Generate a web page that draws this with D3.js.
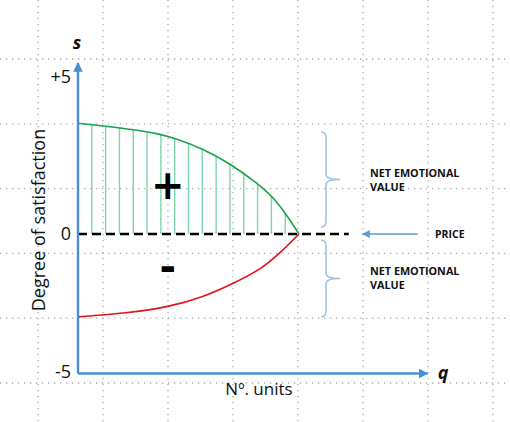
<!DOCTYPE html>
<html>
<head>
<meta charset="utf-8">
<script src="https://cdn.jsdelivr.net/npm/d3@7"></script>
<style>
  body { margin: 0; background: #fff; }
  text { font-family: "Open Sans", sans-serif; }
</style>
</head>
<body>
<div id="wrapper"></div>
<script>
// data
const greenQ = [0, 2, 4, 6, 7, 9, 11, 13, 14.1, 15.1, 16]
const greenS = [3.53, 3.44, 3.33, 3.18, 3.05, 2.73, 2.25, 1.61, 1.19, 0.61, 0]
const redQ = [0, 3.5, 6.7, 9.1, 11, 13.2, 14.6, 16]
const redS = [-3.0, -2.87, -2.63, -2.27, -1.85, -1.30, -0.70, 0]
const hatchQ = [1, 2, 3, 4, 5, 6, 7, 8, 9, 10, 11, 12, 13, 14, 15]
const yTicks = [-5, 0, 5]
const yTickLabels = ["-5", "0", "+5"]
const priceLine = [0, 19.6]
const priceArrow = [24.6, 20.6]
const braces = [[3.25, 0.22], [-0.22, -3.0]]

const width = 510
const height = 422

const svg = d3.select("#wrapper")
  .append("svg")
  .attr("width", width)
  .attr("height", height)

// defs: arrow heads
const defs = svg.append("defs")
defs.append("marker")
  .attr("id", "arrow")
  .attr("viewBox", "0 0 10 10")
  .attr("refX", 9).attr("refY", 5)
  .attr("markerWidth", 4).attr("markerHeight", 4)
  .attr("markerUnits", "strokeWidth")
  .attr("orient", "auto")
  .append("path")
  .attr("d", "M0,0L10,5L0,10z")
  .attr("fill", "#4a8fd6")
defs.append("marker")
  .attr("id", "arrowPrice")
  .attr("viewBox", "0 0 10 10")
  .attr("refX", 9).attr("refY", 5)
  .attr("markerWidth", 5).attr("markerHeight", 5)
  .attr("markerUnits", "strokeWidth")
  .attr("orient", "auto")
  .append("path")
  .attr("d", "M0,0L10,5L0,10z")
  .attr("fill", "#5b9bd5")

// background dotted grid
const grid = svg.append("g")
grid.selectAll("line.v")
  .data(d3.range(38, width, 65))
  .join("line")
  .attr("x1", d => d).attr("x2", d => d)
  .attr("y1", 0).attr("y2", height)
grid.selectAll("line.h")
  .data(d3.range(59, height, 64.8))
  .join("line")
  .attr("x1", 0).attr("x2", width)
  .attr("y1", d => d).attr("y2", d => d)
grid.selectAll("line")
  .attr("stroke", "#aaa")
  .attr("stroke-width", 1.3)
  .attr("stroke-dasharray", "1.3 4.7")

// scales
const xScale = d3.scaleLinear()
  .domain([0, 25.3])
  .range([78, 427.5])

const yScale = d3.scaleLinear()
  .domain([-5.05, 0, 5.45])
  .range([373.5, 234, 63])

const green = greenQ.map((q, i) => ({q: q, s: greenS[i]}))
const red = redQ.map((q, i) => ({q: q, s: redS[i]}))

const lineGen = d3.line()
  .x(d => xScale(d.q))
  .y(d => yScale(d.s))
  .curve(d3.curveBasis)

const areaGen = d3.area()
  .x(d => xScale(d.q))
  .y0(yScale(0))
  .y1(d => yScale(d.s))
  .curve(d3.curveBasis)

// hatch under the green curve
defs.append("clipPath")
  .attr("id", "under")
  .append("path")
  .attr("d", areaGen(green))

svg.append("g")
  .attr("clip-path", "url(#under)")
  .selectAll("line")
  .data(hatchQ)
  .join("line")
  .attr("x1", d => xScale(d)).attr("x2", d => xScale(d))
  .attr("y1", yScale(0)).attr("y2", yScale(5))
  .attr("stroke", "#7fd3ad")
  .attr("stroke-width", 1.4)

// price dashed line
svg.append("line")
  .attr("x1", xScale(priceLine[0])).attr("x2", xScale(priceLine[1]))
  .attr("y1", yScale(0)).attr("y2", yScale(0))
  .attr("stroke", "#000")
  .attr("stroke-width", 2.6)
  .attr("stroke-dasharray", "9 5")

// curves
svg.append("path")
  .attr("d", lineGen(green))
  .attr("fill", "none")
  .attr("stroke", "#16a34a")
  .attr("stroke-width", 1.6)

svg.append("path")
  .attr("d", lineGen(red))
  .attr("fill", "none")
  .attr("stroke", "#e3121b")
  .attr("stroke-width", 1.6)

// axes
const yAxis = d3.axisLeft(yScale)
  .tickValues(yTicks)
  .tickSize(0)
  .tickPadding(7)
  .tickFormat((d, i) => yTickLabels[i])
const axisY = svg.append("g")
  .attr("transform", `translate(${xScale(0)},0)`)
  .call(yAxis)
axisY.select(".domain")
  .attr("stroke", "#4a8fd6")
  .attr("stroke-width", 2.4)
  .attr("d", `M0,${yScale.range()[0]}V${yScale.range()[2]}`)
  .attr("marker-end", "url(#arrow)")
axisY.selectAll("text")
  .attr("font-size", 18)
  .attr("fill", "#111")
  .style("font-family", "'Open Sans', sans-serif")

const xAxis = d3.axisBottom(xScale).tickValues([]).tickSizeOuter(0)
const axisX = svg.append("g")
  .attr("transform", `translate(0,${yScale(-5.05)})`)
  .call(xAxis)
axisX.select(".domain")
  .attr("stroke", "#4a8fd6")
  .attr("stroke-width", 2.4)
  .attr("d", `M${xScale.range()[0]},0H${xScale.range()[1]}`)
  .attr("marker-end", "url(#arrow)")

// axis titles
svg.append("text")
  .attr("transform", `translate(45,220) rotate(-90)`)
  .attr("text-anchor", "middle")
  .attr("font-size", 18)
  .attr("fill", "#111")
  .text("Degree of satisfaction")

svg.append("text")
  .attr("x", 259).attr("y", 395)
  .attr("text-anchor", "middle")
  .attr("font-size", 17)
  .attr("fill", "#111")
  .text("Nº. units")

svg.append("text")
  .attr("x", xScale(0) - 1).attr("y", 49)
  .attr("text-anchor", "middle")
  .attr("font-size", 18)
  .attr("font-weight", "bold")
  .attr("font-style", "italic")
  .attr("fill", "#111")
  .text("s")

svg.append("text")
  .attr("x", 443).attr("y", yScale(-5.05) + 5)
  .attr("text-anchor", "middle")
  .attr("font-size", 18)
  .attr("font-weight", "bold")
  .attr("font-style", "italic")
  .attr("fill", "#111")
  .text("q")

// plus / minus signs
svg.append("text")
  .attr("x", xScale(6.5)).attr("y", yScale(1.55))
  .attr("text-anchor", "middle")
  .attr("dominant-baseline", "central")
  .attr("font-size", 40)
  .attr("font-weight", "bold")
  .style("font-family", "'DejaVu Sans', sans-serif")
  .attr("fill", "#000")
  .text("+")

svg.append("text")
  .attr("x", xScale(6.5)).attr("y", yScale(-1.2))
  .attr("text-anchor", "middle")
  .attr("dominant-baseline", "central")
  .attr("font-size", 40)
  .attr("font-weight", "bold")
  .style("font-family", "'DejaVu Sans', sans-serif")
  .attr("fill", "#000")
  .text("-")

// price arrow + label
svg.append("line")
  .attr("x1", xScale(priceArrow[0])).attr("x2", xScale(priceArrow[1]))
  .attr("y1", yScale(0)).attr("y2", yScale(0))
  .attr("stroke", "#5b9bd5")
  .attr("stroke-width", 1.6)
  .attr("marker-end", "url(#arrowPrice)")

svg.append("text")
  .attr("x", 435).attr("y", yScale(0) + 4)
  .attr("font-size", 10.5)
  .attr("font-weight", "bold")
  .attr("fill", "#111")
  .text("PRICE")

// braces
function bracePath(y0, y1) {
  const x0 = 321, xb = 326, xt = 340
  const ym = (y0 + y1) / 2
  return `M${x0},${y0}Q${xb},${y0} ${xb},${y0 + 6}` +
    `V${ym - 5}Q${xb},${ym} ${xt},${ym}` +
    `Q${xb},${ym} ${xb},${ym + 5}` +
    `V${y1 - 6}Q${xb},${y1} ${x0},${y1}`
}
svg.append("g")
  .selectAll("path")
  .data(braces)
  .join("path")
  .attr("d", d => bracePath(yScale(d[0]), yScale(d[1])))
  .attr("fill", "none")
  .attr("stroke", "#9cc2e5")
  .attr("stroke-width", 1.5)

const labels = svg.append("g")
  .selectAll("text")
  .data(braces)
  .join("text")
  .attr("x", 370)
  .attr("y", d => (yScale(d[0]) + yScale(d[1])) / 2 - 3)
  .attr("font-size", 10.8)
  .attr("font-weight", "bold")
  .attr("fill", "#111")
labels.append("tspan").attr("x", 370).text("NET EMOTIONAL")
labels.append("tspan").attr("x", 370).attr("dy", 14).text("VALUE")
</script>
</body>
</html>
